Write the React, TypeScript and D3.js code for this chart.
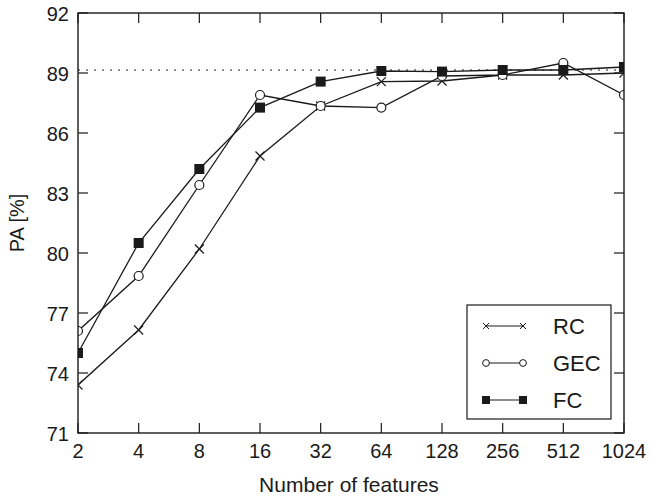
import React from "react";
import * as d3 from "d3";

const features = [2, 4, 8, 16, 32, 64, 128, 256, 512, 1024];
const rcValues = [73.4, 76.15, 80.2, 84.85, 87.35, 88.57, 88.6, 88.9, 88.9, 89.0];
const gecValues = [76.1, 78.85, 83.4, 87.9, 87.35, 87.27, 88.85, 88.9, 89.5, 87.9];
const fcValues = [75.0, 80.5, 84.2, 87.27, 88.57, 89.1, 89.07, 89.15, 89.15, 89.3];
const yTicks = [71, 74, 77, 80, 83, 86, 89, 92];
const referenceLevel = 89.15;
const seriesNames = ["RC", "GEC", "FC"];

const W = 652, H = 497;
const m = { left: 78, right: 624, top: 13, bottom: 433 };
const FONT = "'Liberation Sans', Arial, Helvetica, sans-serif";
const INK = "#1a1a1a";

function Marker({ kind, x, y }: { kind: string; x: number; y: number }) {
  if (kind === "RC") {
    const s = 4.5;
    return (
      <g stroke={INK} strokeWidth={1.2}>
        <line x1={x - s} y1={y - s} x2={x + s} y2={y + s} />
        <line x1={x - s} y1={y + s} x2={x + s} y2={y - s} />
      </g>
    );
  }
  if (kind === "GEC") {
    return <circle cx={x} cy={y} r={4.5} fill="#fff" stroke={INK} strokeWidth={1.2} />;
  }
  return <rect x={x - 5} y={y - 5} width={10} height={10} fill={INK} />;
}

export default function App() {
  const x = d3.scaleLog().base(2).domain([2, 1024]).range([m.left, m.right]);
  const y = d3.scaleLinear().domain([71, 92]).range([m.bottom, m.top]);
  const line = d3
    .line<[number, number]>()
    .x((d) => x(d[0]))
    .y((d) => y(d[1]));
  const series = [
    { name: "RC", values: rcValues },
    { name: "GEC", values: gecValues },
    { name: "FC", values: fcValues },
  ];
  const tickLen = 10;
  const legend = { x0: 467, x1: 611, y0: 305, y1: 419 };
  const legendRows = [326, 363, 400];

  return (
    <svg
      width={W}
      height={H}
      style={{ position: "absolute", left: 0, top: 0, background: "#fff" }}
      fontFamily={FONT}
    >
      <rect x={0} y={0} width={W} height={H} fill="#fff" />
      <defs>
        <clipPath id="plot">
          <rect x={m.left} y={m.top} width={m.right - m.left} height={m.bottom - m.top} />
        </clipPath>
      </defs>
      <line
        x1={m.left}
        x2={m.right}
        y1={y(referenceLevel)}
        y2={y(referenceLevel)}
        stroke={INK}
        strokeWidth={1.2}
        strokeDasharray="2 6"
      />
      <g clipPath="url(#plot)">
        {series.map((s) => (
          <path
            key={s.name}
            d={line(features.map((f, i) => [f, s.values[i]]) as [number, number][]) || ""}
            fill="none"
            stroke={INK}
            strokeWidth={1.3}
          />
        ))}
        {series.map((s) =>
          features.map((f, i) => (
            <Marker key={s.name + f} kind={s.name} x={x(f)} y={y(s.values[i])} />
          ))
        )}
      </g>
      <rect
        x={m.left}
        y={m.top}
        width={m.right - m.left}
        height={m.bottom - m.top}
        fill="none"
        stroke={INK}
        strokeWidth={1.4}
      />
      {features.map((f) => (
        <g key={"xt" + f}>
          <line x1={x(f)} x2={x(f)} y1={m.bottom} y2={m.bottom - tickLen} stroke={INK} strokeWidth={1.2} />
          <line x1={x(f)} x2={x(f)} y1={m.top} y2={m.top + tickLen} stroke={INK} strokeWidth={1.2} />
          <text x={x(f)} y={m.bottom + 25} textAnchor="middle" fontSize={20} fill={INK}>
            {f}
          </text>
        </g>
      ))}
      {yTicks.map((t) => (
        <g key={"yt" + t}>
          <line x1={m.left} x2={m.left + tickLen} y1={y(t)} y2={y(t)} stroke={INK} strokeWidth={1.2} />
          <line x1={m.right} x2={m.right - tickLen} y1={y(t)} y2={y(t)} stroke={INK} strokeWidth={1.2} />
          <text x={m.left - 9} y={y(t) + 7.5} textAnchor="end" fontSize={20} fill={INK}>
            {t}
          </text>
        </g>
      ))}
      <text x={349} y={492} textAnchor="middle" fontSize={21} fill={INK}>
        Number of features
      </text>
      <text
        transform={`translate(24, ${(m.top + m.bottom) / 2}) rotate(-90)`}
        textAnchor="middle"
        fontSize={20}
        fill={INK}
      >
        PA [%]
      </text>
      <rect
        x={legend.x0}
        y={legend.y0}
        width={legend.x1 - legend.x0}
        height={legend.y1 - legend.y0}
        fill="#fff"
        stroke={INK}
        strokeWidth={1.2}
      />
      {seriesNames.map((n, i) => (
        <g key={"lg" + n}>
          <line x1={486} x2={523} y1={legendRows[i]} y2={legendRows[i]} stroke={INK} strokeWidth={1.2} />
          {n === "RC" ? (
            <g stroke={INK} strokeWidth={1}>
              <line x1={483} y1={legendRows[i] - 3} x2={489} y2={legendRows[i] + 3} />
              <line x1={483} y1={legendRows[i] + 3} x2={489} y2={legendRows[i] - 3} />
              <line x1={520} y1={legendRows[i] - 3} x2={526} y2={legendRows[i] + 3} />
              <line x1={520} y1={legendRows[i] + 3} x2={526} y2={legendRows[i] - 3} />
            </g>
          ) : n === "GEC" ? (
            <g>
              <circle cx={486} cy={legendRows[i]} r={3.4} fill="#fff" stroke={INK} strokeWidth={1} />
              <circle cx={523} cy={legendRows[i]} r={3.4} fill="#fff" stroke={INK} strokeWidth={1} />
            </g>
          ) : (
            <g>
              <rect x={482} y={legendRows[i] - 4} width={8} height={8} fill={INK} />
              <rect x={519} y={legendRows[i] - 4} width={8} height={8} fill={INK} />
            </g>
          )}
          <text x={553} y={legendRows[i] + 8} fontSize={22} fill={INK}>
            {n}
          </text>
        </g>
      ))}
    </svg>
  );
}
